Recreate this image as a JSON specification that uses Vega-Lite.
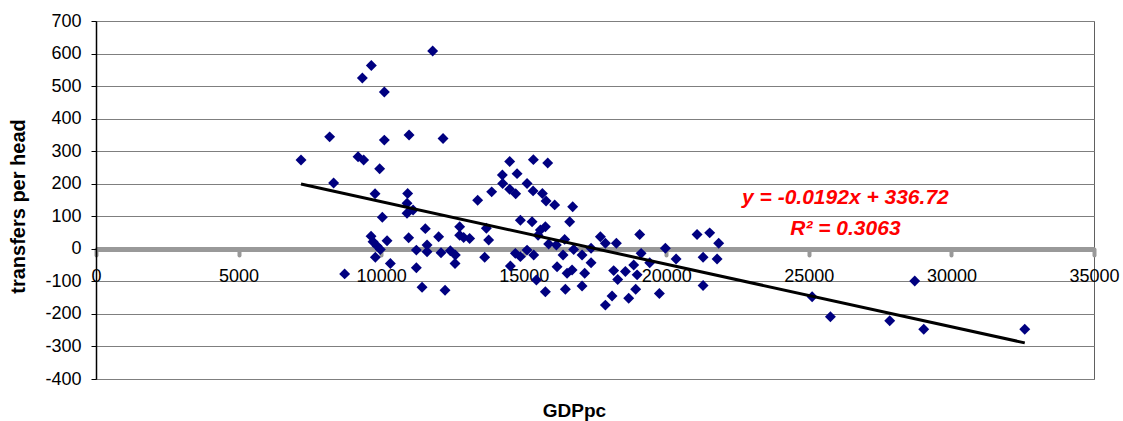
{
  "$schema": "https://vega.github.io/schema/vega-lite/v6.json",
  "width": 998,
  "height": 358,
  "autosize": "none",
  "padding": {"left": 96, "top": 21, "right": 29, "bottom": 42},
  "background": "white",
  "config": {
    "font": "Liberation Sans",
    "view": {"stroke": "#606060", "strokeWidth": 1},
    "axis": {"labelOverlap": false}
  },
  "datasets": {
    "pts": [
      {"gdp": 7190, "tr": 273}, {"gdp": 8194, "tr": 344}, {"gdp": 8334, "tr": 202}, {"gdp": 9341, "tr": 525},
      {"gdp": 9656, "tr": 563}, {"gdp": 10112, "tr": 482}, {"gdp": 10112, "tr": 334}, {"gdp": 9190, "tr": 283},
      {"gdp": 9387, "tr": 273}, {"gdp": 9948, "tr": 246}, {"gdp": 9786, "tr": 169}, {"gdp": 10979, "tr": 350},
      {"gdp": 11807, "tr": 608}, {"gdp": 12171, "tr": 339}, {"gdp": 10930, "tr": 170}, {"gdp": 14508, "tr": 268},
      {"gdp": 15339, "tr": 274}, {"gdp": 15842, "tr": 264}, {"gdp": 14251, "tr": 227}, {"gdp": 14767, "tr": 231},
      {"gdp": 14262, "tr": 201}, {"gdp": 13876, "tr": 175}, {"gdp": 13385, "tr": 149}, {"gdp": 14508, "tr": 183},
      {"gdp": 14718, "tr": 169}, {"gdp": 15118, "tr": 201}, {"gdp": 15329, "tr": 178}, {"gdp": 15655, "tr": 170},
      {"gdp": 15784, "tr": 147}, {"gdp": 16086, "tr": 135}, {"gdp": 16717, "tr": 129}, {"gdp": 10908, "tr": 140},
      {"gdp": 11119, "tr": 119}, {"gdp": 10908, "tr": 109}, {"gdp": 10042, "tr": 97}, {"gdp": 11550, "tr": 62},
      {"gdp": 9646, "tr": 39}, {"gdp": 10965, "tr": 34}, {"gdp": 10207, "tr": 25}, {"gdp": 9716, "tr": 22},
      {"gdp": 9856, "tr": 9}, {"gdp": 9972, "tr": -2}, {"gdp": 11235, "tr": -4}, {"gdp": 11610, "tr": 12},
      {"gdp": 11610, "tr": -9}, {"gdp": 12017, "tr": 37}, {"gdp": 12100, "tr": -12}, {"gdp": 9797, "tr": -26},
      {"gdp": 10323, "tr": -45}, {"gdp": 11235, "tr": -58}, {"gdp": 8720, "tr": -77}, {"gdp": 11435, "tr": -118},
      {"gdp": 14883, "tr": 88}, {"gdp": 15293, "tr": 83}, {"gdp": 16612, "tr": 83}, {"gdp": 13690, "tr": 63},
      {"gdp": 12754, "tr": 68}, {"gdp": 15760, "tr": 68}, {"gdp": 15584, "tr": 58}, {"gdp": 15503, "tr": 42},
      {"gdp": 12754, "tr": 42}, {"gdp": 12894, "tr": 35}, {"gdp": 13104, "tr": 32}, {"gdp": 13771, "tr": 27},
      {"gdp": 16436, "tr": 29}, {"gdp": 15875, "tr": 15}, {"gdp": 16145, "tr": 12}, {"gdp": 16752, "tr": -2},
      {"gdp": 16380, "tr": -19}, {"gdp": 12427, "tr": -6}, {"gdp": 12602, "tr": -19}, {"gdp": 12591, "tr": -45},
      {"gdp": 13631, "tr": -26}, {"gdp": 14707, "tr": -14}, {"gdp": 14883, "tr": -24}, {"gdp": 15117, "tr": -4},
      {"gdp": 15351, "tr": -19}, {"gdp": 14532, "tr": -53}, {"gdp": 15444, "tr": -96}, {"gdp": 16170, "tr": -55},
      {"gdp": 16521, "tr": -75}, {"gdp": 16696, "tr": -65}, {"gdp": 17138, "tr": -75}, {"gdp": 15760, "tr": -132},
      {"gdp": 16461, "tr": -124}, {"gdp": 17046, "tr": -114}, {"gdp": 12241, "tr": -127}, {"gdp": 17046, "tr": -19},
      {"gdp": 17362, "tr": 2}, {"gdp": 17362, "tr": -43}, {"gdp": 17689, "tr": 37}, {"gdp": 17864, "tr": 17},
      {"gdp": 18250, "tr": 17}, {"gdp": 19068, "tr": 44}, {"gdp": 19117, "tr": -14}, {"gdp": 19419, "tr": -43},
      {"gdp": 18858, "tr": -50}, {"gdp": 18566, "tr": -70}, {"gdp": 18155, "tr": -67}, {"gdp": 18296, "tr": -94},
      {"gdp": 18977, "tr": -80}, {"gdp": 18098, "tr": -145}, {"gdp": 18682, "tr": -152}, {"gdp": 19758, "tr": -137},
      {"gdp": 19968, "tr": 2}, {"gdp": 20344, "tr": -31}, {"gdp": 21080, "tr": 44}, {"gdp": 21522, "tr": 49},
      {"gdp": 21838, "tr": 17}, {"gdp": 21291, "tr": -26}, {"gdp": 21782, "tr": -31}, {"gdp": 21291, "tr": -113},
      {"gdp": 18927, "tr": -124}, {"gdp": 17864, "tr": -173}, {"gdp": 25114, "tr": -147}, {"gdp": 25756, "tr": -209},
      {"gdp": 27836, "tr": -221}, {"gdp": 28713, "tr": -99}, {"gdp": 29029, "tr": -247}, {"gdp": 32572, "tr": -247}
    ],
    "trend": [
      {"gdp": 7190, "tr": 199},
      {"gdp": 32572, "tr": -289}
    ],
    "notes": [
      {"gdp": 26282, "tr": 156, "label": "y = -0.0192x + 336.72"},
      {"gdp": 26282, "tr": 61, "label": "R² = 0.3063"}
    ]
  },
  "encoding": {
    "x": {
      "field": "gdp", "type": "quantitative",
      "scale": {"domain": [0, 35000], "nice": false, "zero": false},
      "axis": {
        "title": "GDPpc",
        "offset": -130,
        "tickCount": 7,
        "labelExpr": "'' + datum.value",
        "labelOverlap": false,
        "grid": false,
        "domainColor": "#999999",
        "domainWidth": 5,
        "tickColor": "#999999",
        "tickWidth": 4,
        "tickSize": 6,
        "tickCap": "round",
        "labelFont": "Liberation Sans",
        "labelFontSize": 18,
        "labelColor": "#000000",
        "labelPadding": 12,
        "labelFlush": false,
        "titleFont": "Liberation Sans",
        "titleFontSize": 19,
        "titleFontWeight": "bold",
        "titleColor": "#000000",
        "titleX": 478,
        "titleY": 161,
        "titleBaseline": "middle",
        "titleAlign": "center"
      }
    },
    "y": {
      "field": "tr", "type": "quantitative",
      "scale": {"domain": [-400, 700], "nice": false, "zero": false},
      "axis": {
        "title": "transfers per head",
        "tickCount": 12,
        "labelExpr": "'' + datum.value",
        "labelOverlap": false,
        "grid": true,
        "gridColor": "#7f7f7f",
        "gridWidth": 1,
        "domainColor": "#000000",
        "domainWidth": 1.5,
        "tickColor": "#000000",
        "tickWidth": 1,
        "tickSize": 5,
        "labelFont": "Liberation Sans",
        "labelFontSize": 18,
        "labelColor": "#000000",
        "labelPadding": 10,
        "labelFlush": false,
        "titleFont": "Liberation Sans",
        "titleFontSize": 20,
        "titleFontWeight": "bold",
        "titleColor": "#000000",
        "titleX": -78,
        "titleY": 185,
        "titleBaseline": "middle",
        "titleAngle": -90
      }
    }
  },
  "layer": [
    {
      "data": {"name": "pts"},
      "mark": {"type": "point", "shape": "diamond", "filled": true, "size": 120, "color": "#000080", "opacity": 1, "strokeWidth": 0}
    },
    {
      "data": {"name": "trend"},
      "mark": {"type": "line", "color": "#000000", "strokeWidth": 3}
    },
    {
      "data": {"name": "notes"},
      "mark": {"type": "text", "color": "#ff0000", "font": "Liberation Sans", "fontSize": 21, "fontWeight": "bold", "fontStyle": "italic", "align": "center", "baseline": "middle"},
      "encoding": {
        "text": {"field": "label"}
      }
    }
  ]
}
